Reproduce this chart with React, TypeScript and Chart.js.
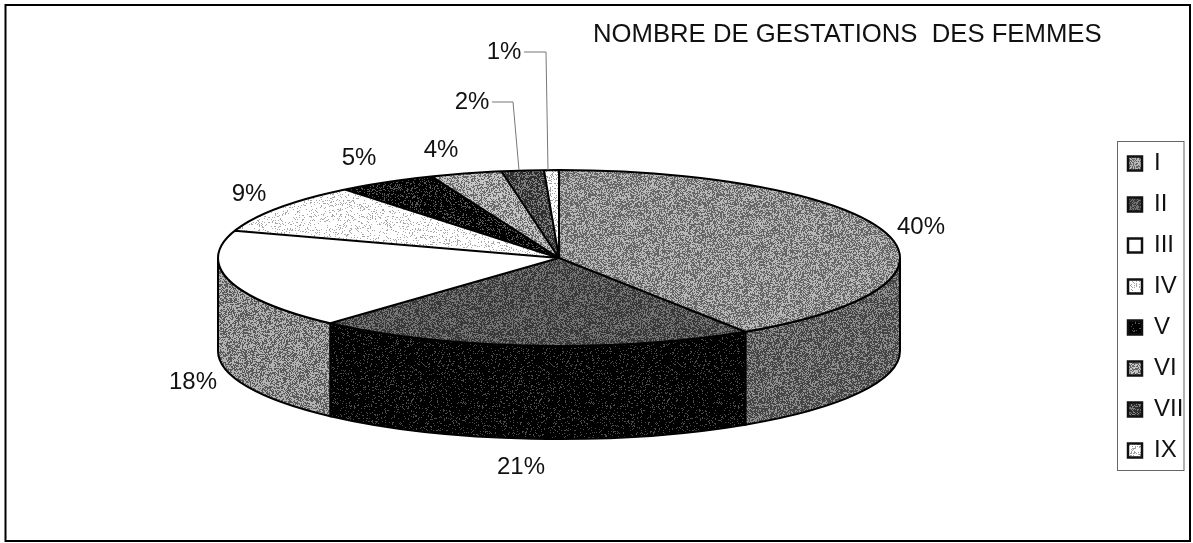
import React, { useEffect, useRef } from "react";
import { Chart, registerables } from "chart.js";

Chart.register(...registerables);

const categories = ["I", "II", "III", "IV", "V", "VI", "VII", "IX"];
const sliceShares = [40.8, 20.9, 18.3, 9.2, 4.7, 3.4, 2.0, 0.7];
// Percent texts as printed next to each slice.
const percentLabels = ["40%", "21%", "18%", "9%", "5%", "4%", "2%", "1%"];
const chartTitle = "NOMBRE DE GESTATIONS  DES FEMMES";

// [dark ink, light ink, share of dark pixels]
const topShades: [string, string, number][] = [
  ["#666666", "#b8b8b8", 0.52],
  ["#383838", "#747474", 0.55],
  ["#000000", "#ffffff", 0],
  ["#a8a8a8", "#ffffff", 0.14],
  ["#000000", "#585858", 0.8],
  ["#6a6a6a", "#c6c6c6", 0.42],
  ["#2e2e2e", "#7c7c7c", 0.6],
  ["#a0a0a0", "#ffffff", 0.22],
];
const wallShades: [string, string, number][] = [
  ["#454545", "#8e8e8e", 0.58],
  ["#000000", "#4c4c4c", 0.88],
  ["#5a5a5a", "#b2b2b2", 0.48],
  ["#000000", "#ffffff", 0],
  ["#000000", "#ffffff", 0],
  ["#000000", "#ffffff", 0],
  ["#000000", "#ffffff", 0],
  ["#000000", "#ffffff", 0],
];

const FONT = '"Liberation Sans", Arial, sans-serif';
const CENTER = { x: 559, y: 258 };
const RADIUS_X = 341;
const RADIUS_Y = 88;
const DEPTH = 93;
const FRAME = { left: 5.5, top: 5, right: 1190, bottom: 541 };
const LEGEND_FRAME = { left: 1117.5, top: 141.5, right: 1184, bottom: 470.5 };
const LABEL_ANCHORS = [
  [921, 227], [521, 467], [193, 382], [249, 194],
  [359, 158], [441, 150], [472, 102], [504, 52],
];
const LEADERS = [
  { index: 6, path: [[492, 102], [513, 102], [519, 170]] },
  { index: 7, path: [[524, 52], [546, 52], [548, 170]] },
];

function stipple(shade: [string, string, number], stretchY: number) {
  const [dark, light, share] = shade;
  const size = 128;
  const tile = document.createElement("canvas");
  tile.width = size;
  tile.height = size;
  const g = tile.getContext("2d")!;
  g.fillStyle = light;
  g.fillRect(0, 0, size, size);
  g.fillStyle = dark;
  let seed = 20011;
  for (let y = 0; y < size; y++) {
    for (let x = 0; x < size; x++) {
      seed = (seed * 1103515245 + 12345) & 0x7fffffff;
      if (((seed >> 12) % 1000) / 1000 < share) g.fillRect(x, y, 1, 1);
    }
  }
  const pattern = g.createPattern(tile, "repeat")!;
  pattern.setTransform(new DOMMatrix().scale(1, stretchY));
  return pattern;
}

const pie3d = {
  id: "pie3d",
  beforeDatasetsDraw(chart: any) {
    const { ctx } = chart;
    const arcs = chart.getDatasetMeta(0).data;
    const walls = wallShades.map((s) => stipple(s, 1));
    ctx.save();
    ctx.imageSmoothingEnabled = false;
    ctx.strokeStyle = "#000";
    ctx.lineWidth = 2;
    arcs.forEach((arc: any, i: number) => {
      const a0 = Math.max(arc.startAngle, 0);
      const a1 = Math.min(arc.endAngle, Math.PI);
      if (a1 <= a0) return;
      ctx.beginPath();
      ctx.ellipse(CENTER.x, CENTER.y, RADIUS_X, RADIUS_Y, 0, a0, a1);
      ctx.ellipse(CENTER.x, CENTER.y + DEPTH, RADIUS_X, RADIUS_Y, 0, a1, a0, true);
      ctx.closePath();
      ctx.fillStyle = walls[i];
      ctx.fill();
      ctx.stroke();
    });
    ctx.restore();
    const arc0 = arcs[0];
    ctx.save();
    ctx.imageSmoothingEnabled = false;
    ctx.translate(CENTER.x, CENTER.y);
    ctx.scale(1, RADIUS_Y / RADIUS_X);
    ctx.translate(-arc0.x, -arc0.y);
  },
  afterDatasetsDraw(chart: any) {
    const { ctx } = chart;
    ctx.restore();
    const arcs = chart.getDatasetMeta(0).data;
    ctx.save();
    ctx.strokeStyle = "#000";
    ctx.lineWidth = 2;
    ctx.beginPath();
    ctx.ellipse(CENTER.x, CENTER.y, RADIUS_X, RADIUS_Y, 0, 0, Math.PI * 2);
    arcs.forEach((arc: any) => {
      ctx.moveTo(CENTER.x, CENTER.y);
      ctx.lineTo(
        CENTER.x + RADIUS_X * Math.cos(arc.startAngle),
        CENTER.y + RADIUS_Y * Math.sin(arc.startAngle)
      );
    });
    ctx.stroke();
    ctx.restore();
  },
  afterDraw(chart: any) {
    const { ctx } = chart;
    ctx.save();
    ctx.strokeStyle = "#000";
    ctx.lineWidth = 2;
    ctx.strokeRect(FRAME.left, FRAME.top, FRAME.right - FRAME.left, FRAME.bottom - FRAME.top);
    ctx.strokeStyle = "#666";
    ctx.lineWidth = 1;
    ctx.strokeRect(
      LEGEND_FRAME.left,
      LEGEND_FRAME.top,
      LEGEND_FRAME.right - LEGEND_FRAME.left,
      LEGEND_FRAME.bottom - LEGEND_FRAME.top
    );
    ctx.strokeStyle = "#777";
    LEADERS.forEach(({ path }) => {
      ctx.beginPath();
      path.forEach(([x, y], i) => (i ? ctx.lineTo(x, y) : ctx.moveTo(x, y)));
      ctx.stroke();
    });
    ctx.fillStyle = "#111";
    ctx.textAlign = "center";
    ctx.textBaseline = "middle";
    ctx.font = `24px ${FONT}`;
    percentLabels.forEach((text, i) => {
      ctx.fillText(text, LABEL_ANCHORS[i][0], LABEL_ANCHORS[i][1]);
    });
    ctx.textAlign = "left";
    ctx.font = `25.7px ${FONT}`;
    ctx.fillText(chartTitle, 593, 35);
    ctx.restore();
  },
  afterLayout(chart: any) {
    const legend = chart.legend;
    const pad = legend.options.labels.padding;
    legend.left = 1128 - pad;
    legend.right = legend.left + legend.width;
    legend.top = 307 - legend.height / 2;
    legend.bottom = legend.top + legend.height;
  },
};

export default function App() {
  const canvasRef = useRef<HTMLCanvasElement>(null);

  useEffect(() => {
    const flatten = RADIUS_X / RADIUS_Y;
    const fills = topShades.map((s) => stipple(s, flatten));
    const swatches = topShades.map((s) => stipple(s, 1));
    const chart = new Chart(canvasRef.current!, {
      type: "pie",
      plugins: [pie3d],
      data: {
        labels: categories,
        datasets: [
          {
            data: sliceShares,
            backgroundColor: fills,
            borderWidth: 0,
            clip: false,
          },
        ],
      },
      options: {
        responsive: false,
        animation: false,
        radius: RADIUS_X,
        plugins: {
          tooltip: { enabled: false },
          title: { display: false },
          legend: {
            display: true,
            position: "right",
            labels: {
              boxWidth: 14,
              boxHeight: 14,
              padding: 17,
              color: "#111",
              font: { family: FONT, size: 24 },
              generateLabels(c: any) {
                const items = (Chart as any).overrides.doughnut.plugins.legend.labels.generateLabels(c);
                return items.map((item: any, i: number) => ({
                  ...item,
                  fillStyle: swatches[i],
                  strokeStyle: "#111",
                  lineWidth: 2.5,
                }));
              },
            },
          },
        },
      },
    } as any);
    return () => chart.destroy();
  }, []);

  return (
    <canvas
      ref={canvasRef}
      width={1193}
      height={543}
      style={{ position: "fixed", left: 0, top: 0, display: "block", background: "#fff" }}
    />
  );
}
